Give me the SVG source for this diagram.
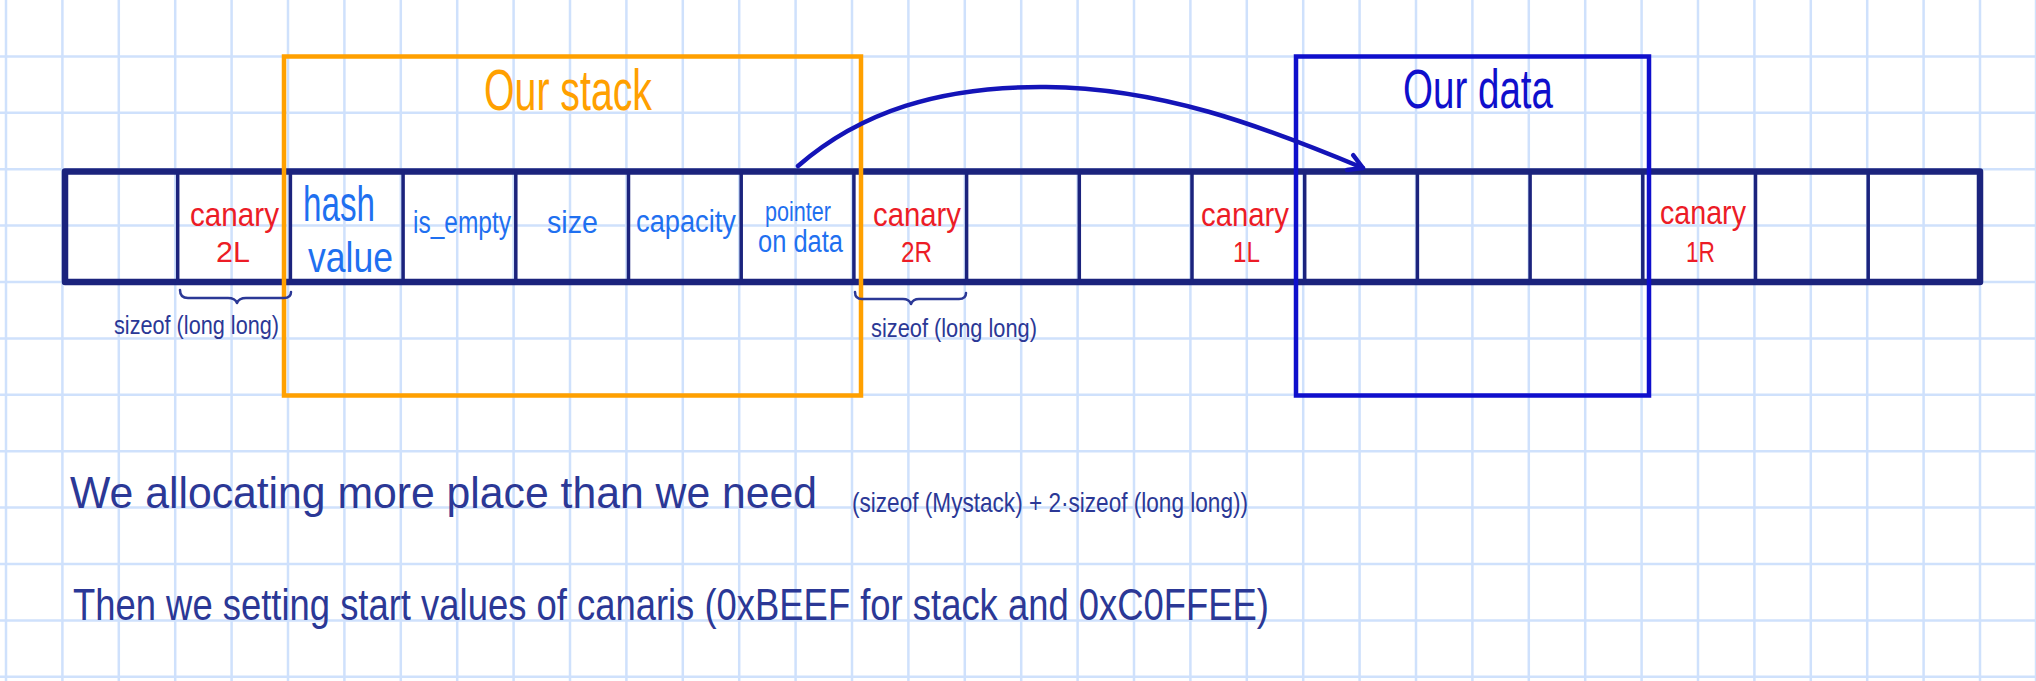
<svg xmlns="http://www.w3.org/2000/svg" width="2036" height="681" viewBox="0 0 2036 681">
<style>
  .grid { stroke: #cfe1fc; stroke-width: 2.5; fill: none; }
  .frame { stroke: #1b237d; stroke-width: 6.5; fill: none; stroke-linejoin: round; }
  .div { stroke: #1b237d; stroke-width: 3.5; }
  .t { font-family: "Liberation Sans Narrow", "Liberation Sans", sans-serif; }
  .red { fill: #ec1c26; font-size: 34px; }
  .red2 { fill: #ec1c26; font-size: 30px; }
  .fld { fill: #1f70f0; }
  .navy { fill: #2b3896; }
  .brace { stroke: #2b3896; stroke-width: 2.5; fill: none; stroke-linecap: round; stroke-linejoin: round; }
  .arrow { stroke: #1414b8; stroke-width: 4.5; fill: none; stroke-linecap: round; }
</style>
<defs>
  <marker id="head" markerUnits="userSpaceOnUse" markerWidth="30" markerHeight="30" refX="0" refY="0" viewBox="-20 -15 30 30" orient="auto">
    <path d="M-14,-8 L0,0 L-14,8" stroke="#1414b8" stroke-width="4.5" fill="none" stroke-linecap="round" stroke-linejoin="round"/>
  </marker>
</defs>
<rect width="2036" height="681" fill="#ffffff"/>
<path class="grid" d="M6,0V681 M62.4,0V681 M118.8,0V681 M175.2,0V681 M231.6,0V681 M288,0V681 M344.4,0V681 M400.8,0V681 M457.2,0V681 M513.6,0V681 M570,0V681 M626.4,0V681 M682.8,0V681 M739.2,0V681 M795.6,0V681 M852,0V681 M908.4,0V681 M964.8,0V681 M1021.2,0V681 M1077.6,0V681 M1134,0V681 M1190.4,0V681 M1246.8,0V681 M1303.2,0V681 M1359.6,0V681 M1416,0V681 M1472.4,0V681 M1528.8,0V681 M1585.2,0V681 M1641.6,0V681 M1698,0V681 M1754.4,0V681 M1810.8,0V681 M1867.2,0V681 M1923.6,0V681 M1980,0V681 M2036,0V681 M0,56.4H2036 M0,112.8H2036 M0,169.2H2036 M0,225.6H2036 M0,282H2036 M0,338.4H2036 M0,394.8H2036 M0,451.2H2036 M0,507.6H2036 M0,564H2036 M0,620.4H2036 M0,676.8H2036"/>

<g id="memory-row">
  <rect class="frame" x="65" y="171.5" width="1915" height="110.5"/>
  <path class="div" d="M177.7,172V282 M290.4,172V282 M403.1,172V282 M515.8,172V282 M628.5,172V282 M741.2,172V282 M853.9,172V282 M966.6,172V282 M1079.3,172V282 M1192,172V282 M1304.7,172V282 M1417.4,172V282 M1530.1,172V282 M1642.8,172V282 M1755.5,172V282 M1868.2,172V282"/>
</g>

<g id="cell-canary-2L">
  <text class="t red" x="190" y="226" textLength="89" lengthAdjust="spacingAndGlyphs">canary</text>
  <text class="t red2" x="216" y="262" textLength="34" lengthAdjust="spacingAndGlyphs">2L</text>
</g>
<g id="cell-hash">
  <text class="t fld" x="303" y="221" font-size="50" textLength="72" lengthAdjust="spacingAndGlyphs">hash</text>
  <text class="t fld" x="308" y="272" font-size="42" textLength="85" lengthAdjust="spacingAndGlyphs">value</text>
</g>
<g id="cell-is-empty">
  <text class="t fld" x="413" y="233" font-size="31" textLength="98" lengthAdjust="spacingAndGlyphs">is_empty</text>
</g>
<g id="cell-size">
  <text class="t fld" x="547" y="233" font-size="32" textLength="51" lengthAdjust="spacingAndGlyphs">size</text>
</g>
<g id="cell-capacity">
  <text class="t fld" x="636" y="232" font-size="31" textLength="100" lengthAdjust="spacingAndGlyphs">capacity</text>
</g>
<g id="cell-pointer">
  <text class="t fld" x="765" y="221" font-size="27" textLength="66" lengthAdjust="spacingAndGlyphs">pointer</text>
  <text class="t fld" x="758" y="252" font-size="31" textLength="85" lengthAdjust="spacingAndGlyphs">on data</text>
</g>
<g id="cell-canary-2R">
  <text class="t red" x="873" y="226" textLength="88" lengthAdjust="spacingAndGlyphs">canary</text>
  <text class="t red2" x="901" y="262" textLength="31" lengthAdjust="spacingAndGlyphs">2R</text>
</g>
<g id="cell-canary-1L">
  <text class="t red" x="1201" y="226" textLength="88" lengthAdjust="spacingAndGlyphs">canary</text>
  <text class="t red2" x="1233" y="262" textLength="27" lengthAdjust="spacingAndGlyphs">1L</text>
</g>
<g id="cell-canary-1R">
  <text class="t red" x="1660" y="224" textLength="86" lengthAdjust="spacingAndGlyphs">canary</text>
  <text class="t red2" x="1686" y="262" textLength="29" lengthAdjust="spacingAndGlyphs">1R</text>
</g>

<g id="stack-box">
  <rect x="284" y="56.5" width="577" height="339" fill="none" stroke="#ffa000" stroke-width="4.5"/>
  <text class="t" x="484" y="110" font-size="58" fill="#ffa000" textLength="168" lengthAdjust="spacingAndGlyphs">Our stack</text>
</g>
<g id="data-box">
  <rect x="1296" y="56.5" width="353" height="339" fill="none" stroke="#0f0fcc" stroke-width="4.5"/>
  <text class="t" x="1403" y="108" font-size="56" fill="#0f0fcc" textLength="150" lengthAdjust="spacingAndGlyphs">Our data</text>
</g>

<g id="brace-left">
  <path class="brace" d="M180,290 Q180,298 188,298 L228,298 Q235,298 237,303 Q239,298 246,298 L284,298 Q291,298 291,292"/>
  <text class="t navy" x="114" y="334" font-size="25" textLength="165" lengthAdjust="spacingAndGlyphs">sizeof (long long)</text>
</g>
<g id="brace-right">
  <path class="brace" d="M855,292 Q855,299 862,299 L903,299 Q909,299 911,304 Q913,299 919,299 L959,299 Q966,299 966,293"/>
  <text class="t navy" x="871" y="337" font-size="25" textLength="166" lengthAdjust="spacingAndGlyphs">sizeof (long long)</text>
</g>

<g id="note-1">
  <text class="t navy" x="70" y="508" font-size="44" textLength="747" lengthAdjust="spacingAndGlyphs">We allocating more place than we need</text>
  <text class="t navy" x="852" y="512" font-size="28" textLength="396" lengthAdjust="spacingAndGlyphs">(sizeof (Mystack) + 2·sizeof (long long))</text>
</g>
<g id="note-2">
  <text class="t navy" x="73" y="620" font-size="44" textLength="1196" lengthAdjust="spacingAndGlyphs">Then we setting start values of canaris (0xBEEF for stack and 0xC0FFEE)</text>
</g>

<g id="connectors">
  <path class="arrow" d="M798,166 C860,112 940,86 1046,87 C1160,88 1260,125 1363,168" marker-end="url(#head)"/>
</g>
</svg>
